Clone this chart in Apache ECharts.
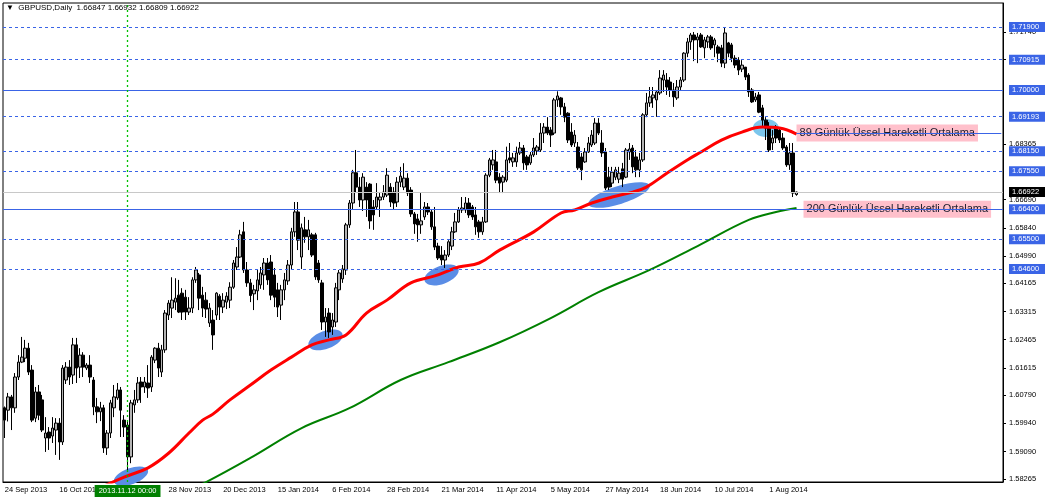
<!DOCTYPE html>
<html><head><meta charset="utf-8">
<script src="https://cdn.jsdelivr.net/npm/echarts@6/dist/echarts.min.js"></script>
<style>html,body{margin:0;padding:0;background:#fff}#c{width:1045px;height:500px}</style>
</head><body><div id="c"></div>
<script>
// ---------- data ----------
const titleText = '\u25BC  GBPUSD,Daily  1.66847 1.66932 1.66809 1.66922';
const tickIdx  = [0,16,32,48,64,80,96,112,128,144,160,176,192,208,224];
const tickText = ['24 Sep 2013','16 Oct 2013','7 Nov 2013','28 Nov 2013','20 Dec 2013','15 Jan 2014','6 Feb 2014','28 Feb 2014','21 Mar 2014','11 Apr 2014','5 May 2014','27 May 2014','18 Jun 2014','10 Jul 2014','1 Aug 2014'];
const crossIdx = 36;
const crossText = '2013.11.12 00:00';
const scaleLabels = [1.71740,1.70915,1.68365,1.66690,1.65840,1.64990,1.64165,1.63315,1.62465,1.61615,1.60790,1.59940,1.59090,1.58265];
const dashedLevels = [1.71900,1.70915,1.69193,1.68150,1.67550,1.65500,1.64600];
const solidLevels = [1.70000,1.66400];
const bidPrice = 1.66922;
const ema89LabelPrice = 1.6870;
const ema89Text = '89 G\u00fcnl\u00fck \u00dcssel Hareketli Ortalama';
const ema200Text = '200 G\u00fcnl\u00fck \u00dcssel Hareketli Ortalama';
// candles: [open, close, low, high]
const candles = [
[1.6041,1.6004,1.5950,1.6045],[1.6034,1.6074,1.6000,1.6086],[1.6074,1.6041,1.5974,1.6080],[1.6041,1.6134,1.6026,1.6146],[1.6134,1.6179,1.6125,1.6200],
[1.6179,1.6194,1.6176,1.6255],[1.6191,1.6221,1.6179,1.6246],[1.6221,1.6149,1.6140,1.6237],[1.6155,1.6004,1.5998,1.6170],[1.6010,1.6089,1.5998,1.6104],
[1.6089,1.6019,1.6004,1.6110],[1.6065,1.5974,1.5968,1.6080],[1.5950,1.5965,1.5908,1.6013],[1.5968,1.5950,1.5914,1.5983],[1.5956,1.5980,1.5935,1.6013],
[1.5974,1.5995,1.5899,1.6010],[1.5995,1.5938,1.5884,1.6010],[1.5938,1.6161,1.5929,1.6170],[1.6125,1.6164,1.6113,1.6179],[1.6164,1.6134,1.6110,1.6185],
[1.6140,1.6231,1.6113,1.6252],[1.6231,1.6161,1.6116,1.6252],[1.6164,1.6200,1.6131,1.6221],[1.6200,1.6164,1.6134,1.6209],[1.6161,1.6170,1.6155,1.6176],
[1.6170,1.6134,1.6116,1.6200],[1.6125,1.6044,1.6019,1.6134],[1.6044,1.6029,1.5995,1.6071],[1.6029,1.6041,1.6001,1.6059],[1.6041,1.5920,1.5905,1.6050],
[1.5920,1.5965,1.5899,1.5974],[1.5965,1.6056,1.5950,1.6065],[1.6041,1.6074,1.6013,1.6110],[1.6071,1.6095,1.6065,1.6116],[1.6095,1.6034,1.5953,1.6104],
[1.6004,1.5983,1.5953,1.6019],[1.5989,1.5893,1.5848,1.6004],[1.5893,1.6056,1.5874,1.6065],[1.6050,1.6065,1.6026,1.6095],[1.6065,1.6116,1.6056,1.6134],
[1.6119,1.6104,1.6056,1.6134],[1.6104,1.6119,1.6086,1.6134],[1.6116,1.6101,1.6071,1.6170],[1.6104,1.6194,1.6089,1.6200],[1.6185,1.6221,1.6176,1.6224],
[1.6221,1.6161,1.6134,1.6237],[1.6149,1.6216,1.6134,1.6231],[1.6216,1.6327,1.6207,1.6336],[1.6321,1.6357,1.6306,1.6366],[1.6342,1.6366,1.6312,1.6435],
[1.6360,1.6372,1.6336,1.6432],[1.6381,1.6330,1.6327,1.6427],[1.6387,1.6330,1.6306,1.6402],[1.6375,1.6330,1.6306,1.6397],[1.6330,1.6342,1.6321,1.6375],
[1.6342,1.6427,1.6327,1.6435],[1.6427,1.6457,1.6418,1.6466],[1.6442,1.6372,1.6336,1.6448],[1.6381,1.6342,1.6315,1.6406],[1.6366,1.6339,1.6312,1.6390],
[1.6297,1.6342,1.6285,1.6357],[1.6306,1.6261,1.6216,1.6336],[1.6321,1.6387,1.6306,1.6390],[1.6378,1.6345,1.6306,1.6384],[1.6345,1.6366,1.6327,1.6387],
[1.6360,1.6378,1.6339,1.6390],[1.6366,1.6405,1.6342,1.6420],[1.6405,1.6478,1.6400,1.6487],[1.6466,1.6496,1.6457,1.6526],[1.6496,1.6563,1.6493,1.6578],
[1.6572,1.6457,1.6448,1.6602],[1.6457,1.6418,1.6406,1.6481],[1.6418,1.6380,1.6360,1.6430],[1.6385,1.6397,1.6336,1.6412],[1.6394,1.6427,1.6366,1.6457],
[1.6412,1.6448,1.6400,1.6466],[1.6442,1.6478,1.6397,1.6493],[1.6478,1.6427,1.6412,1.6493],[1.6481,1.6381,1.6366,1.6502],[1.6442,1.6375,1.6345,1.6463],
[1.6397,1.6345,1.6315,1.6418],[1.6351,1.6397,1.6306,1.6412],[1.6397,1.6427,1.6366,1.6448],[1.6424,1.6472,1.6412,1.6487],[1.6472,1.6572,1.6457,1.6584],
[1.6572,1.6632,1.6557,1.6662],[1.6632,1.6547,1.6517,1.6662],[1.6496,1.6584,1.6460,1.6597],[1.6578,1.6557,1.6539,1.6617],[1.6557,1.6578,1.6517,1.6608],
[1.6563,1.6502,1.6496,1.6569],[1.6563,1.6436,1.6427,1.6569],[1.6478,1.6427,1.6418,1.6487],[1.6418,1.6300,1.6276,1.6427],[1.6300,1.6315,1.6255,1.6342],
[1.6327,1.6270,1.6252,1.6342],[1.6285,1.6306,1.6261,1.6327],[1.6300,1.6403,1.6285,1.6418],[1.6397,1.6448,1.6366,1.6457],[1.6430,1.6460,1.6418,1.6472],
[1.6457,1.6593,1.6442,1.6599],[1.6593,1.6659,1.6584,1.6668],[1.6659,1.6750,1.6638,1.6759],[1.6750,1.6707,1.6689,1.6819],[1.6707,1.6668,1.6647,1.6737],
[1.6668,1.6737,1.6635,1.6749],[1.6707,1.6668,1.6617,1.6722],[1.6716,1.6605,1.6581,1.6719],[1.6647,1.6623,1.6578,1.6668],[1.6647,1.6677,1.6638,1.6719],
[1.6668,1.6677,1.6617,1.6689],[1.6677,1.6692,1.6668,1.6713],[1.6683,1.6743,1.6677,1.6764],[1.6707,1.6662,1.6647,1.6719],[1.6692,1.6659,1.6638,1.6707],
[1.6662,1.6722,1.6647,1.6737],[1.6722,1.6740,1.6707,1.6768],[1.6707,1.6734,1.6698,1.6779],[1.6734,1.6689,1.6680,1.6749],[1.6698,1.6626,1.6617,1.6707],
[1.6626,1.6596,1.6566,1.6632],[1.6611,1.6593,1.6542,1.6626],[1.6593,1.6605,1.6566,1.6689],[1.6617,1.6647,1.6608,1.6662],[1.6647,1.6632,1.6623,1.6659],
[1.6632,1.6587,1.6578,1.6638],[1.6587,1.6526,1.6517,1.6647],[1.6529,1.6493,1.6487,1.6539],[1.6502,1.6487,1.6472,1.6529],[1.6487,1.6502,1.6463,1.6517],
[1.6502,1.6542,1.6496,1.6547],[1.6529,1.6572,1.6517,1.6587],[1.6572,1.6602,1.6569,1.6629],[1.6602,1.6638,1.6599,1.6647],[1.6638,1.6644,1.6629,1.6677],
[1.6638,1.6659,1.6629,1.6677],[1.6659,1.6623,1.6614,1.6674],[1.6647,1.6617,1.6608,1.6653],[1.6623,1.6587,1.6563,1.6647],[1.6602,1.6572,1.6554,1.6608],
[1.6572,1.6602,1.6563,1.6617],[1.6602,1.6743,1.6599,1.6749],[1.6743,1.6789,1.6737,1.6795],[1.6774,1.6789,1.6759,1.6819],[1.6783,1.6728,1.6719,1.6819],
[1.6737,1.6719,1.6689,1.6749],[1.6722,1.6737,1.6689,1.6743],[1.6728,1.6789,1.6722,1.6829],[1.6795,1.6789,1.6779,1.6840],[1.6783,1.6795,1.6768,1.6810],
[1.6783,1.6810,1.6768,1.6829],[1.6810,1.6825,1.6804,1.6843],[1.6825,1.6780,1.6759,1.6834],[1.6798,1.6774,1.6759,1.6804],[1.6780,1.6804,1.6774,1.6813],
[1.6804,1.6825,1.6798,1.6855],[1.6816,1.6828,1.6804,1.6834],[1.6819,1.6870,1.6813,1.6900],[1.6870,1.6888,1.6840,1.6900],[1.6888,1.6870,1.6864,1.6918],
[1.6879,1.6864,1.6828,1.6888],[1.6870,1.6970,1.6864,1.6976],[1.6970,1.6982,1.6949,1.6996],[1.6976,1.6949,1.6925,1.6979],[1.6949,1.6918,1.6903,1.6961],
[1.6930,1.6849,1.6840,1.6933],[1.6873,1.6834,1.6828,1.6900],[1.6840,1.6864,1.6828,1.6879],[1.6828,1.6765,1.6759,1.6843],[1.6798,1.6759,1.6728,1.6810],
[1.6783,1.6813,1.6780,1.6825],[1.6813,1.6840,1.6810,1.6858],[1.6834,1.6864,1.6828,1.6879],[1.6840,1.6900,1.6834,1.6915],[1.6900,1.6870,1.6864,1.6915],
[1.6840,1.6810,1.6798,1.6879],[1.6813,1.6704,1.6698,1.6825],[1.6737,1.6707,1.6698,1.6768],[1.6719,1.6752,1.6707,1.6768],[1.6737,1.6759,1.6728,1.6768],
[1.6731,1.6749,1.6719,1.6768],[1.6762,1.6731,1.6707,1.6780],[1.6737,1.6819,1.6734,1.6825],[1.6813,1.6822,1.6789,1.6840],[1.6825,1.6768,1.6749,1.6834],
[1.6798,1.6759,1.6737,1.6819],[1.6759,1.6789,1.6737,1.6810],[1.6789,1.6925,1.6783,1.6930],[1.6925,1.6961,1.6918,1.6991],[1.6961,1.6979,1.6949,1.7009],
[1.6976,1.6985,1.6946,1.7009],[1.6970,1.6994,1.6919,1.7000],[1.6991,1.7036,1.6985,1.7060],[1.7030,1.7045,1.6994,1.7060],[1.7030,1.7009,1.6985,1.7051],
[1.7024,1.7000,1.6979,1.7039],[1.7000,1.6979,1.6949,1.7021],[1.6976,1.7009,1.6970,1.7030],[1.7009,1.7030,1.7000,1.7039],[1.7030,1.7111,1.7024,1.7114],
[1.7111,1.7145,1.7099,1.7157],[1.7145,1.7166,1.7121,1.7172],[1.7166,1.7151,1.7087,1.7175],[1.7151,1.7160,1.7081,1.7172],[1.7166,1.7130,1.7127,1.7172],
[1.7127,1.7151,1.7096,1.7160],[1.7145,1.7160,1.7127,1.7166],[1.7160,1.7127,1.7121,1.7166],[1.7136,1.7151,1.7099,1.7157],[1.7130,1.7111,1.7084,1.7136],
[1.7127,1.7081,1.7069,1.7136],[1.7081,1.7172,1.7066,1.7190],[1.7142,1.7111,1.7099,1.7145],[1.7136,1.7096,1.7084,1.7142],[1.7096,1.7075,1.7066,1.7105],
[1.7090,1.7060,1.7045,1.7099],[1.7063,1.7075,1.7054,1.7090],[1.7069,1.7039,1.7030,1.7069],[1.7045,1.6994,1.6979,1.7051],[1.7000,1.6964,1.6961,1.7006],
[1.6970,1.6979,1.6964,1.6991],[1.6985,1.6933,1.6930,1.6994],[1.6946,1.6909,1.6888,1.6955],[1.6909,1.6885,1.6849,1.6918],[1.6888,1.6819,1.6813,1.6903],
[1.6840,1.6855,1.6819,1.6879],[1.6885,1.6855,1.6840,1.6894],[1.6879,1.6849,1.6840,1.6885],[1.6855,1.6825,1.6819,1.6870],[1.6828,1.6774,1.6768,1.6834],
[1.6774,1.6810,1.6759,1.6840],[1.6810,1.6689,1.6677,1.6840],[1.66847,1.66922,1.66809,1.66932]
];
// EMA readings (bar index -> value)
const ema89Idx = [28,35,42,48,54,58,61,66,72,78,84,90,95,100,106,112,119,126,133,139,145,155,163,167,172,178,184,188,194,200,204,210,216,222,227,232];
const ema89Val = [1.5800,1.5832,1.5860,1.5904,1.5965,1.6004,1.6022,1.6065,1.6110,1.6155,1.6194,1.6231,1.6246,1.6261,1.6327,1.6366,1.6418,1.6439,1.6466,1.6478,1.6517,1.6572,1.6629,1.6638,1.6659,1.6677,1.6692,1.6707,1.6749,1.6789,1.6813,1.6849,1.6873,1.6888,1.6885,1.6867];
const ema200Idx = [55,59,72,87,101,116,130,145,160,174,189,203,218,226,232];
const ema200Val = [1.5800,1.5817,1.5890,1.5980,1.6040,1.6125,1.6179,1.6239,1.6312,1.6390,1.6457,1.6529,1.6608,1.6632,1.6644];
// highlight ellipse anchors: [bar index, price]
const ellipseAnchors = [[37,1.5835],[94,1.6246],[128,1.6442],[180,1.6683],[223,1.6885]];

// ---------- chart ----------
const SLOTS = 293;
const cats = Array.from({length: SLOTS}, (_, i) => String(i));
function sparse(idx, val) {
  const a = new Array(candles.length).fill(null);
  idx.forEach((k, j) => { a[k] = val[j]; });
  return a;
}
const FONT = "'Liberation Sans', Arial, sans-serif";
const BLUE = '#3a64e6';
const tickSet = new Set(tickIdx);

function boxLabel(text, bg) {
  return {show: true, position: 'end', formatter: text, backgroundColor: bg, color: '#fff',
    fontSize: 7.5, fontFamily: FONT, padding: [1, 6, 1, 3], distance: 6};
}
const markData = [];
dashedLevels.forEach(v => markData.push({
  yAxis: v, lineStyle: {color: BLUE, type: [3, 3], width: 1}, label: boxLabel(v.toFixed(5), BLUE)
}));
solidLevels.forEach(v => markData.push({
  yAxis: v, lineStyle: {color: BLUE, type: 'solid', width: 1}, label: boxLabel(v.toFixed(5), BLUE)
}));
markData.push({
  yAxis: bidPrice, lineStyle: {color: '#c8c8c8', type: 'solid', width: 1}, label: boxLabel(bidPrice.toFixed(5), '#000')
});
markData.push([
  {coord: [String(candles.length - 1), ema89LabelPrice], lineStyle: {color: BLUE, type: 'solid', width: 1}, label: {show: false}},
  {coord: [String(SLOTS - 1), ema89LabelPrice]}
]);
markData.push({
  xAxis: String(crossIdx), lineStyle: {color: '#00c000', type: [2, 3], width: 1.3},
  label: {show: true, position: 'start', formatter: crossText, backgroundColor: '#008000', color: '#fff',
    fontSize: 7.5, fontFamily: FONT, padding: [2, 4, 2, 4], distance: 3}
});

const chart = echarts.init(document.getElementById('c'), null, {renderer: 'canvas'});
const option = {
  animation: false,
  backgroundColor: '#fff',
  grid: {left: 3, right: 42, top: 3, bottom: 18, show: true, borderColor: '#000', borderWidth: 1, backgroundColor: 'transparent'},
  xAxis: {
    type: 'category', data: cats, boundaryGap: true,
    axisLine: {lineStyle: {color: '#000', width: 1}},
    axisTick: {alignWithLabel: true, length: 3, lineStyle: {color: '#000'}, interval: (i) => tickSet.has(i)},
    axisLabel: {interval: (i) => tickSet.has(i), formatter: (v, i) => tickText[tickIdx.indexOf(i)] || '',
      align: 'left', color: '#000', fontSize: 7.5, fontFamily: FONT, margin: 4, hideOverlap: false},
    splitLine: {show: false}
  },
  yAxis: {
    type: 'value', position: 'right', min: 1.58173, max: 1.72624, scale: true,
    axisLine: {show: true, lineStyle: {color: '#000', width: 1}},
    axisTick: {show: true, length: 3, customValues: scaleLabels, lineStyle: {color: '#000'}},
    axisLabel: {customValues: scaleLabels, formatter: (v) => v.toFixed(5), color: '#000', fontSize: 7.5, fontFamily: FONT, margin: 6},
    splitLine: {show: false}
  },
  series: [
    {
      type: 'candlestick', data: candles, barWidth: 3, z: 3,
      itemStyle: {color: '#b4b4b4', color0: '#000000', borderColor: '#000000', borderColor0: '#000000', borderWidth: 1},
      markLine: {silent: true, precision: 5, symbol: ['none', 'none'], animation: false, data: markData}
    },
    {
      type: 'line', data: sparse(ema89Idx, ema89Val), connectNulls: true, smooth: 0.4, showSymbol: false, symbol: 'none',
      lineStyle: {color: '#ff0000', width: 3}, z: 4
    },
    {
      type: 'line', data: sparse(ema200Idx, ema200Val), connectNulls: true, smooth: 0.4, showSymbol: false, symbol: 'none',
      lineStyle: {color: '#008000', width: 2}, z: 4
    }
  ]
};
chart.setOption(option);

// annotations anchored to data coordinates
const ellSizes = [[18, 8, 0.35, '#5a8de6'], [18, 9, 0.35, '#5a8de6'], [18, 9, 0.35, '#5a8de6'], [32, 9, 0.3, '#5a8de6'], [13, 9, 0, '#7cc6ec']];
const graphics = [];
ellipseAnchors.forEach((a, k) => {
  const p = chart.convertToPixel({gridIndex: 0}, [String(a[0]), a[1]]);
  const s = ellSizes[k];
  graphics.push({type: 'ellipse', x: p[0], y: p[1], rotation: s[2], shape: {cx: 0, cy: 0, rx: s[0], ry: s[1]},
    style: {fill: s[3]}, z: 1, silent: true});
});
const last = String(candles.length - 1);
const p89 = chart.convertToPixel({gridIndex: 0}, [last, ema89LabelPrice]);
const p200 = chart.convertToPixel({gridIndex: 0}, [last, solidLevels[1]]);
graphics.push({type: 'text', x: p89[0], y: p89[1], z: 1, silent: true,
  style: {text: ema89Text, fill: '#1a1a2a', font: '11px ' + FONT, verticalAlign: 'middle', align: 'left',
    backgroundColor: '#ffc0cb', padding: [3, 3, 3, 3]}});
graphics.push({type: 'text', x: p200[0] + 7, y: p200[1], z: 1, silent: true,
  style: {text: ema200Text, fill: '#1a1a2a', font: '11px ' + FONT, verticalAlign: 'middle', align: 'left',
    backgroundColor: '#ffc0cb', padding: [3, 3, 3, 3]}});
graphics.push({type: 'text', x: 6, y: 8, z: 10, silent: true,
  style: {text: titleText, fill: '#000', font: '8px ' + FONT, verticalAlign: 'middle', align: 'left'}});
chart.setOption({graphic: {elements: graphics}});
</script>
</body></html>
